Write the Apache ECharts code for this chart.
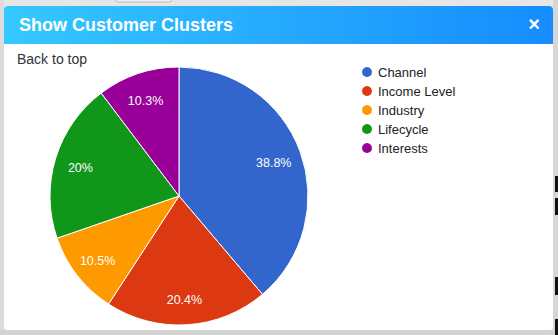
<!DOCTYPE html>
<html>
<head>
<meta charset="utf-8">
<script src="https://cdn.jsdelivr.net/npm/echarts@6/dist/echarts.min.js"></script>
<style>
html,body{margin:0;padding:0;background:#e6e6e6;}
#chart{width:558px;height:335px;}
</style>
</head>
<body>
<div id="chart"></div>
<script>
const titleText = 'Show Customer Clusters';
const backText = 'Back to top';
const categories = ['Channel', 'Income Level', 'Industry', 'Lifecycle', 'Interests'];
const values = [38.8, 20.4, 10.5, 20, 10.3];
const colors = ['#3366cc', '#dc3912', '#ff9900', '#109618', '#990099'];

const pieData = categories.map((c, i) => ({ name: c, value: values[i], itemStyle: { color: colors[i] } }));
const labelData = categories.map((c, i) => ({ name: c, value: values[i] }));

const chart = echarts.init(document.getElementById('chart'), null, { renderer: 'svg' });
chart.setOption({
  animation: false,
  backgroundColor: '#e6e6e6',
  graphic: [
    { type: 'rect', z: 0, shape: { x: 0, y: 0, width: 4, height: 335 }, style: { fill: '#dcdcdc' } },
    { type: 'rect', z: 0, shape: { x: 0, y: 330, width: 558, height: 5 }, style: { fill: '#d2d2d2' } },
    { type: 'rect', z: 0, shape: { x: 553, y: 0, width: 5, height: 335 }, style: { fill: '#d6d6d6' } },
    { type: 'rect', z: 0, shape: { x: 555, y: 176, width: 3, height: 16 }, style: { fill: '#111' } },
    { type: 'rect', z: 0, shape: { x: 555, y: 198, width: 3, height: 17 }, style: { fill: '#111' } },
    { type: 'rect', z: 0, shape: { x: 555, y: 277, width: 3, height: 18 }, style: { fill: '#111' } },
    { type: 'rect', z: 0, shape: { x: 555, y: 319, width: 3, height: 16 }, style: { fill: '#111' } },
    { type: 'rect', z: 0, shape: { x: 115, y: -4, width: 57, height: 6, r: 3 }, style: { fill: '#efefef', stroke: '#bbb', lineWidth: 1 } },
    { type: 'rect', z: 1, shape: { x: 4, y: 6, width: 549, height: 324, r: 4 }, style: { fill: '#ffffff' } },
    { type: 'rect', z: 1, shape: { x: 4, y: 6, width: 549, height: 38, r: [4, 4, 0, 0] },
      style: { fill: new echarts.graphic.LinearGradient(0, 0, 1, 0, [
        { offset: 0, color: '#35c8fe' }, { offset: 1, color: '#168cfe' }]) } },
    { type: 'text', z: 2, x: 19, y: 25, style: { text: titleText, fill: '#ffffff',
      font: 'bold 18px "Liberation Sans", Arial, sans-serif', textVerticalAlign: 'middle' } },
    { type: 'text', z: 2, x: 534, y: 24, style: { text: '×', fill: '#ffffff', textAlign: 'center',
      font: 'bold 20px "Liberation Sans", Arial, sans-serif', textVerticalAlign: 'middle' } },
    { type: 'text', z: 2, x: 17, y: 59, style: { text: backText, fill: '#333333',
      font: '14px "Liberation Sans", Arial, sans-serif', textVerticalAlign: 'middle' } }
  ],
  legend: {
    orient: 'vertical',
    left: 360,
    top: 65,
    padding: 0,
    icon: 'circle',
    itemWidth: 12,
    itemHeight: 12,
    itemGap: 5,
    data: categories,
    textStyle: { color: '#222222', fontSize: 13, fontFamily: '"Liberation Sans", Arial, sans-serif' }
  },
  series: [
    {
      type: 'pie',
      z: 3,
      center: [179, 196],
      radius: [0, 129],
      startAngle: 90,
      clockwise: true,
      label: { show: false },
      labelLine: { show: false },
      itemStyle: { borderColor: '#ffffff', borderWidth: 1 },
      emphasis: { disabled: true },
      data: pieData
    },
    {
      type: 'pie',
      z: 4,
      silent: true,
      center: [178, 198],
      radius: [0, 198],
      startAngle: 90,
      clockwise: true,
      itemStyle: { color: 'rgba(0,0,0,0)', borderWidth: 0 },
      label: {
        show: true,
        position: 'inside',
        color: '#ffffff',
        fontSize: 12.5,
        fontFamily: '"Liberation Sans", Arial, sans-serif',
        formatter: p => p.value + '%'
      },
      labelLine: { show: false },
      emphasis: { disabled: true },
      data: labelData
    }
  ]
});
</script>
</body>
</html>
